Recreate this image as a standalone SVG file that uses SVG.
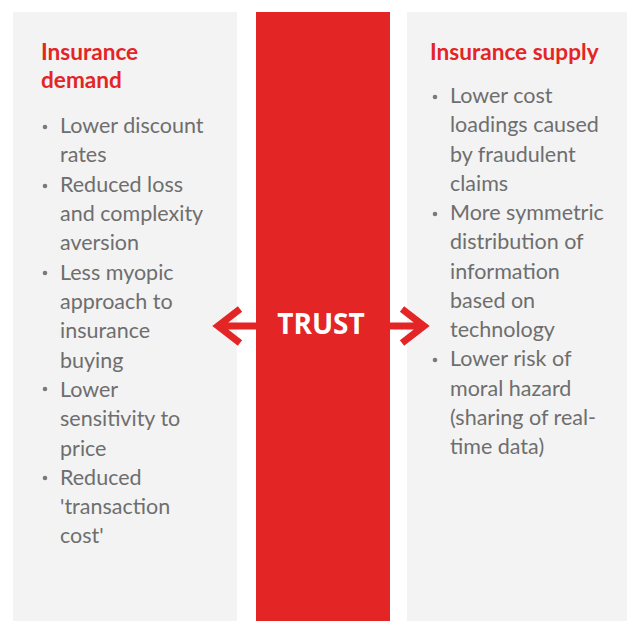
<svg xmlns="http://www.w3.org/2000/svg" width="627" height="621" viewBox="0 0 627 621">
<style>
.panel{fill:#f3f3f3}
.bar{fill:#e32526}
.title{font-family:Lato,"Open Sans","Liberation Sans",sans-serif;font-weight:700;font-size:22.6px;fill:#e32526}
.body{font-family:Lato,"Open Sans","Liberation Sans",sans-serif;font-size:21.5px;fill:#6e6e6e}
.dot{fill:#7a7a7a}
.trust{font-family:"Open Sans",Lato,"Liberation Sans",sans-serif;font-weight:700;font-size:28px;fill:#ffffff}
.arrow{fill:none;stroke:#e32526;stroke-width:7;stroke-linejoin:miter;stroke-linecap:butt}
</style>
<rect width="627" height="621" fill="#ffffff"/>
<g id="demand">
<rect class="panel" x="13" y="12" width="224" height="609"/>
<text class="title" x="41" y="60">Insurance</text>
<text class="title" x="41" y="88">demand</text>
<g class="dot">
<circle cx="45" cy="127" r="2.3"/>
<circle cx="45" cy="186" r="2.3"/>
<circle cx="45" cy="273" r="2.3"/>
<circle cx="45" cy="389" r="2.3"/>
<circle cx="45" cy="478" r="2.3"/>
</g>
<text class="body" x="60" y="133">Lower discount</text>
<text class="body" x="60" y="162">rates</text>
<text class="body" x="60" y="192">Reduced loss</text>
<text class="body" x="60" y="221">and complexity</text>
<text class="body" x="60" y="250">aversion</text>
<text class="body" x="60" y="280">Less myopic</text>
<text class="body" x="60" y="309">approach to</text>
<text class="body" x="60" y="338">insurance</text>
<text class="body" x="60" y="368">buying</text>
<text class="body" x="60" y="397">Lower</text>
<text class="body" x="60" y="426">sensitivity to</text>
<text class="body" x="60" y="456">price</text>
<text class="body" x="60" y="485">Reduced</text>
<text class="body" x="60" y="514">'transaction</text>
<text class="body" x="60" y="543">cost'</text>
</g>
<g id="trust">
<rect class="bar" x="256" y="12" width="134" height="609"/>
<text class="trust" x="321" y="334" text-anchor="middle">TRUST</text>
</g>
<g id="supply">
<rect class="panel" x="407" y="12" width="220" height="609"/>
<text class="title" x="430" y="60">Insurance supply</text>
<g class="dot">
<circle cx="435" cy="97" r="2.3"/>
<circle cx="435" cy="214" r="2.3"/>
<circle cx="435" cy="360" r="2.3"/>
</g>
<text class="body" x="450" y="103">Lower cost</text>
<text class="body" x="450" y="132">loadings caused</text>
<text class="body" x="450" y="162">by fraudulent</text>
<text class="body" x="450" y="191">claims</text>
<text class="body" x="450" y="220">More symmetric</text>
<text class="body" x="450" y="249">distribution of</text>
<text class="body" x="450" y="279">information</text>
<text class="body" x="450" y="308">based on</text>
<text class="body" x="450" y="337">technology</text>
<text class="body" x="450" y="366">Lower risk of</text>
<text class="body" x="450" y="396">moral hazard</text>
<text class="body" x="450" y="425">(sharing of real-</text>
<text class="body" x="450" y="454">time data)</text>
</g>
<g id="connectors">
<path class="arrow" d="M256,326 H219 M240,309 L218,326 L240,343"/>
<path class="arrow" d="M390,326 H423 M402,309 L424,326 L402,343"/>
</g>
</svg>
